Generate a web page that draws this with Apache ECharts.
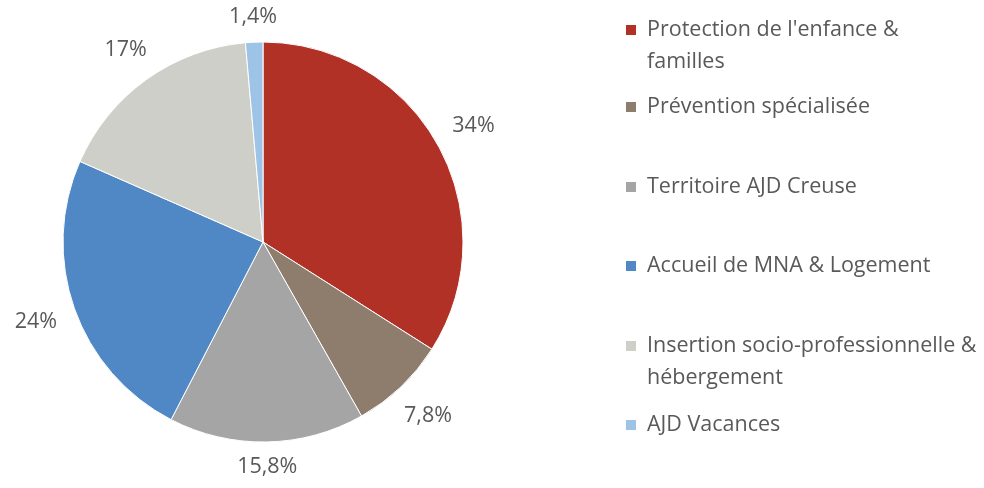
<!DOCTYPE html>
<html>
<head>
<meta charset="utf-8">
<script src="https://cdn.jsdelivr.net/npm/echarts@6/dist/echarts.min.js"></script>
<style>
  html, body { margin: 0; padding: 0; background: #fff; }
  #chart { width: 984px; height: 488px; }
</style>
</head>
<body>
<div id="chart"></div>
<script>
var names = [
	"Protection de l'enfance & familles",
	"Prévention spécialisée",
	"Territoire AJD Creuse",
	"Accueil de MNA & Logement",
	"Insertion socio-professionnelle & hébergement",
	"AJD Vacances"
];
// texte de légende avec retour à la ligne
var legendLabels = [
	"Protection de l'enfance &\nfamilles",
	"Prévention spécialisée",
	"Territoire AJD Creuse",
	"Accueil de MNA & Logement",
	"Insertion socio-professionnelle &\nhébergement",
	"AJD Vacances"
];
var values = [34, 7.8, 15.8, 24, 17, 1.4];
var colors = ['#B23127', '#8E7D6D', '#A5A5A5', '#5088C5', '#CFCFCA', '#9DC3E6'];
var legendY = [30, 107, 187, 266, 346, 425];

var font = '"Segoe UI", "Open Sans", sans-serif';
var textColor = '#595959';
var lineH = 32;
var pieCenter = [263, 242];
var pieRadius = 200;
var labelGap = 19;

var myChart = echarts.init(document.getElementById('chart'));

var pieData = [];
var labelData = [];
for (var i = 0; i < names.length; i++) {
	pieData.push({value: values[i], name: names[i], itemStyle: {color: colors[i]}});
	labelData.push({value: values[i], name: names[i], itemStyle: {color: 'rgba(0,0,0,0)'}});
}

var legends = [];
for (var i = 0; i < names.length; i++) {
	var twoLines = legendLabels[i].indexOf('\n') >= 0;
	// ligne vide devant pour garder le carré au niveau de la 1re ligne
	var label = twoLines ? '\n' + legendLabels[i] : legendLabels[i];
	legends.push({
		data: [names[i]],
		left: 624,
		top: twoLines ? legendY[i] - lineH * 1.5 : legendY[i] - lineH / 2,
		padding: 0,
		itemWidth: 12,
		itemHeight: 12,
		icon: 'rect',
		selectedMode: false,
		formatter: (function (txt) {
			return function () { return txt; };
		})(label),
		textStyle: {
			fontFamily: font,
			fontSize: 21.5,
			color: textColor,
			lineHeight: lineH,
			padding: [0, 0, 0, 5]
		}
	});
}

// place l'étiquette juste à l'extérieur du disque (boîte à distance fixe du bord)
function placeLabel(params) {
	var r = params.labelRect;
	var cx = r.x + r.width / 2;
	var cy = r.y + r.height / 2;
	var dx = cx - pieCenter[0];
	var dy = cy - pieCenter[1];
	var len = Math.sqrt(dx * dx + dy * dy);
	var ux = dx / len, uy = dy / len;
	var d = pieRadius + labelGap + Math.abs(ux) * r.width / 2 + Math.abs(uy) * r.height / 4;
	return {
		x: pieCenter[0] + ux * d,
		y: pieCenter[1] + uy * d,
		align: 'center',
		verticalAlign: 'middle'
	};
}

option = {
	backgroundColor: '#fff',
	animation: false,
	legend: legends,
	series: [
		{
			type: 'pie',
			center: pieCenter,
			radius: pieRadius,
			startAngle: 90,
			clockwise: true,
			data: pieData,
			itemStyle: {
				borderColor: '#fff',
				borderWidth: 1
			},
			label: {show: false},
			labelLine: {show: false}
		},
		{
			// anneau transparent qui porte seulement les étiquettes
			type: 'pie',
			center: pieCenter,
			radius: [224, 254],
			startAngle: 90,
			clockwise: true,
			silent: true,
			data: labelData,
			label: {
				show: true,
				position: 'inside',
				fontFamily: font,
				fontSize: 21.5,
				color: textColor,
				formatter: function (p) {
					return String(p.value).replace('.', ',') + '%';
				}
			},
			labelLayout: placeLabel,
			labelLine: {show: false},
			emphasis: {disabled: true}
		}
	]
};

myChart.setOption(option);
</script>
</body>
</html>
